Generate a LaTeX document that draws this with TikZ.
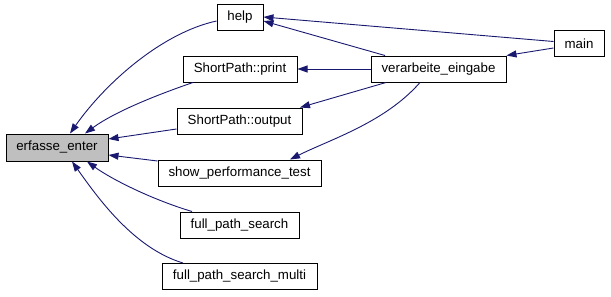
\documentclass[tikz,border=0pt]{standalone}
\usepackage{fontspec}
\setmainfont{Liberation Sans}
\usetikzlibrary{arrows.meta}
\definecolor{edgeblue}{HTML}{191970}
\definecolor{focusgray}{HTML}{BFBFBF}
\tikzset{
  fn/.style={draw=black, line width=1pt, fill=white, inner sep=0pt,
    minimum height=26pt, font=\fontsize{13.3}{16}\selectfont},
  focus/.style={fn, fill=focusgray, minimum height=27pt},
  call/.style={draw=edgeblue, line width=0.9pt,
    -{Triangle[length=10pt,width=7pt]}, fill=none}
}
\begin{document}
\begin{tikzpicture}[x=1pt,y=-1pt]
\useasboundingbox (0,0) rectangle (611,297);

% functions
\node[focus, minimum width=102pt] (erf) at (57,147.5) {erfasse\_enter};
\node[fn, minimum width=46pt]  (help)  at (240,17)    {help};
\node[fn, minimum width=114pt] (print) at (240,69)    {ShortPath::print};
\node[fn, minimum width=125pt] (out)   at (239.5,121) {ShortPath::output};
\node[fn, minimum width=163pt] (perf)  at (239.5,173) {show\_performance\_test};
\node[fn, minimum width=119pt] (fps)   at (239.5,225) {full\_path\_search};
\node[fn, minimum width=155pt] (fpsm)  at (239.5,276.5) {full\_path\_search\_multi};
\node[fn, minimum width=135pt] (verb)  at (438.5,69)  {verarbeite\_eingabe};
\node[fn, minimum width=50pt]  (main)  at (579,43.5)  {main};

% callers of erfasse_enter
\draw[call] ([yshift=-4pt]help.west) .. controls +(-55,12) and +(35,-50) .. ([xshift=13pt]erf.north);
\draw[call] ([xshift=-47pt]print.south) .. controls +(-35,12) and +(30,-22) .. ([xshift=28pt]erf.north);
\draw[call] ([yshift=-8pt]out.west) -- ([yshift=8.5pt]erf.east);
\draw[call] ([yshift=12pt]perf.west) -- ([yshift=-7.5pt]erf.east);
\draw[call] ([xshift=-47.5pt]fps.north) .. controls +(-40,-12) and +(25,18) .. ([xshift=30pt]erf.south);
\draw[call] ([xshift=-56.5pt]fpsm.north) .. controls +(-50,-15) and +(25,35) .. ([xshift=15pt]erf.south);

% callers on the right
\draw[call] ([yshift=2pt]main.west) -- (help.east);
\draw[call] ([xshift=-53.5pt]verb.north) -- ([yshift=-4pt]help.east);
\draw[call] (verb.west) -- (print.east);
\draw[call] ([xshift=-52.5pt]verb.south) -- ([xshift=60.5pt]out.north);
\draw[call] ([xshift=-18.5pt]verb.south) .. controls +(-35,40) and +(40,-20) .. ([xshift=50.5pt]perf.north);
\draw[call] ([yshift=-4.5pt]main.west) -- (verb.north east);
\end{tikzpicture}
\end{document}
